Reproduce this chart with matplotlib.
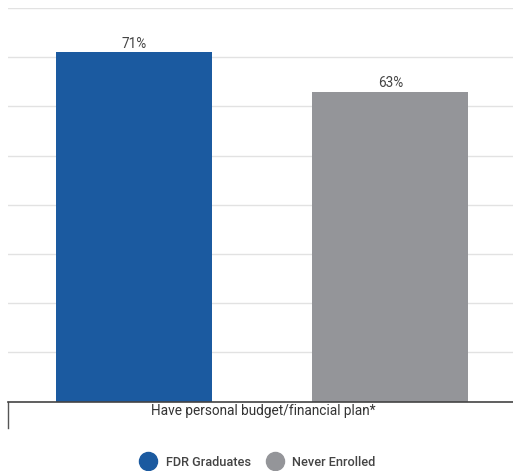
import matplotlib
matplotlib.use("Agg")
import matplotlib.pyplot as plt
from matplotlib.lines import Line2D

plt.rcParams["font.family"] = ["Roboto", "DejaVu Sans"]

category = "Have personal budget/financial plan*"
series = ["FDR Graduates", "Never Enrolled"]
values = [71, 63]
colors = ["#1b5aa0", "#949599"]

W, H = 513, 471
fig = plt.figure(figsize=(W / 100, H / 100), dpi=100)
ax = fig.add_axes([8 / W, 1 - 401.5 / H, 505 / W, 393.5 / H])

offsets = [-0.25, 0.257]
bar_w = 156 / 505
for off, v, c, name in zip(offsets, values, colors, series):
    ax.bar(off, v, width=bar_w, color=c, zorder=2, label=name)
    ax.text(off, v + 0.3, f"{v}%", ha="center", va="bottom",
            fontsize=9.8, color="#444444")

ax.set_xlim(-0.5, 0.5)
ax.set_ylim(0, 80)
ax.set_yticks(range(0, 81, 10))
ax.yaxis.grid(True, color="#e2e2e2", lw=1)
ax.set_axisbelow(True)
ax.tick_params(left=False, labelleft=False, bottom=False, labelbottom=False)
for s in ("top", "right", "left"):
    ax.spines[s].set_visible(False)
ax.spines["bottom"].set_color("#444444")
ax.spines["bottom"].set_linewidth(1.2)

# category separator on the left, hanging below the baseline
ax.plot([-0.5, -0.5], [0, -26 / 393.5 * 80], color="#555555", lw=1,
        clip_on=False)
ax.text(0.005, -10 / 393.5 * 80, category, ha="center", va="center",
        fontsize=9.8, color="#333333")

handles = [Line2D([], [], marker="o", ls="", markersize=13,
                  markerfacecolor=c, markeredgecolor=c) for c in colors]
fig.legend(handles, series, loc="center", bbox_to_anchor=(0.498, 1 - 462 / H),
           ncol=2, frameon=False, handletextpad=0.4,
           columnspacing=0.85, labelcolor="#444444",
           prop={"weight": "medium", "size": 9.2})

fig.savefig("out.png", dpi=100)
